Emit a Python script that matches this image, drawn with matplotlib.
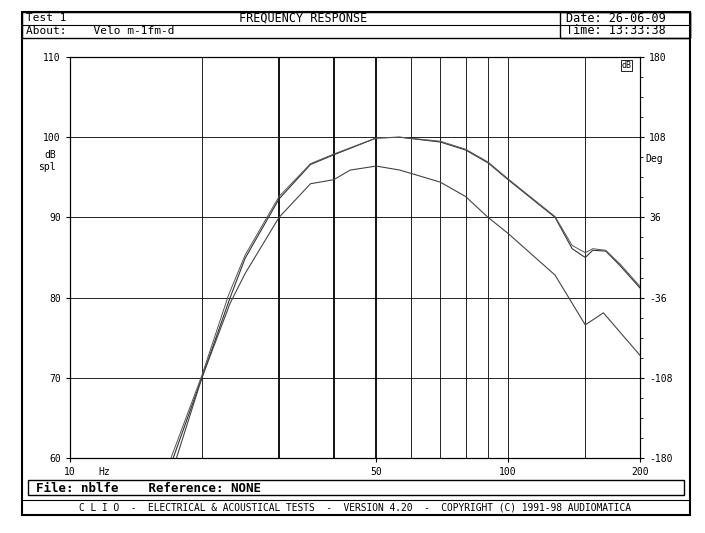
import matplotlib
matplotlib.use("Agg")
import matplotlib.pyplot as plt
from matplotlib.patches import Rectangle

# frequency response curves
freq_a = [17.2, 20, 23.2, 25.1, 30, 35.4, 40, 50, 56.6, 70, 80, 90, 100, 128, 140, 150, 156, 167, 180, 200]
spl_a = [60, 70, 80, 84.9, 92.3, 96.6, 97.8, 99.9, 100, 99.4, 98.4, 96.8, 94.7, 90, 86.1, 85.0, 85.9, 85.8, 84.0, 81.2]
freq_b = [17.0, 20, 23.0, 25.1, 30, 35.4, 40, 50, 56.6, 70, 80, 90, 100, 128, 140, 150, 156, 167, 180, 200]
spl_b = [60, 70.3, 80.3, 85.3, 92.6, 96.7, 97.9, 99.9, 100, 99.5, 98.5, 96.9, 94.8, 90.1, 86.5, 85.6, 86.1, 85.9, 84.2, 81.4]
freq_c = [17.5, 20, 23.2, 25.1, 30, 35.4, 40, 43.6, 50, 56.6, 70, 80, 90, 100, 128, 150, 165, 200]
spl_c = [60, 70, 79.3, 83, 90, 94.2, 94.7, 95.9, 96.4, 95.9, 94.4, 92.6, 90, 88, 82.8, 76.6, 78.1, 72.8]

vgrid = [20, 30, 40, 50, 60, 70, 80, 90, 100, 150]
heavy = [30, 40, 50]
deg_labels = ["-180", "-108", "-36", "36", "108", "180"]

mono = "DejaVu Sans Mono"
fig = plt.figure(figsize=(7.05, 5.33), dpi=100)

# outer frame and header/footer boxes
def box(x0, y0, x1, y1, lw=1.0):
    fig.patches.append(Rectangle((x0 / 705, 1 - y1 / 533), (x1 - x0) / 705, (y1 - y0) / 533,
                                 transform=fig.transFigure, fill=False, lw=lw, color="black"))

box(22, 12, 690, 515, 1.5)
box(22, 12, 690, 38)
box(560, 12, 690, 38)
fig.add_artist(plt.Line2D([22 / 705, 690 / 705], [1 - 25 / 533] * 2, color="black", lw=0.8))
box(28, 480, 684, 495)
fig.add_artist(plt.Line2D([22 / 705, 690 / 705], [1 - 500 / 533] * 2, color="black", lw=0.8))

def ftext(x, y, s, **kw):
    fig.text(x / 705, 1 - y / 533, s, family=mono, va="center", **kw)

ftext(26, 18, "Test 1", fontsize=8)
ftext(303, 18, "FREQUENCY RESPONSE", fontsize=8.5, ha="center")
ftext(26, 31, "About:    Velo m-1fm-d", fontsize=8)
ftext(566, 18, "Date: 26-06-09", fontsize=8.5)
ftext(566, 31, "Time: 13:33:38", fontsize=8.5)
ftext(36, 488, "File: nblfe    Reference: NONE", fontsize=9, weight="bold")
ftext(355, 507, "C L I O  -  ELECTRICAL & ACOUSTICAL TESTS  -  VERSION 4.20  -  COPYRIGHT (C) 1991-98 AUDIOMATICA",
      fontsize=6.9, ha="center")

ax = fig.add_axes([70 / 705, 1 - 458 / 533, 570 / 705, 401 / 533])
ax.set_xscale("log")
ax.set_xlim(10, 200)
ax.set_ylim(60, 110)
for f in vgrid:
    ax.axvline(f, color="black", lw=1.3 if f in heavy else 0.6)
for v in range(70, 110, 10):
    ax.axhline(v, color="black", lw=0.6)

ax.plot(freq_a, spl_a, color="#333333", lw=0.8)
ax.plot(freq_b, spl_b, color="#555555", lw=0.7)
ax.plot(freq_c, spl_c, color="#444444", lw=0.8)

ax.set_xticks([10, 50, 100, 200])
ax.set_xticklabels(["10", "50", "100", "200"], family=mono, fontsize=7)
ax.xaxis.set_minor_locator(matplotlib.ticker.NullLocator())
ax.set_yticks(range(60, 111, 10))
ax.set_yticklabels([str(v) for v in range(60, 111, 10)], family=mono, fontsize=7)
ax.tick_params(length=3, width=0.8)
ax.text(0.05, -0.035, "Hz", transform=ax.transAxes, family=mono, fontsize=7, va="center")
ax.text(-0.025, 0.74, "dB\nspl", transform=ax.transAxes, family=mono, fontsize=7, ha="right", va="center")

ax2 = ax.twinx()
ax2.set_ylim(-180, 180)
ax2.set_yticks([-180, -108, -36, 36, 108, 180])
ax2.set_yticklabels(deg_labels, family=mono, fontsize=7)
ax2.set_yticks(range(-180, 181, 18), minor=True)
ax2.tick_params(length=3, width=0.8)
ax2.tick_params(which="minor", length=2)
ax2.text(1.01, 0.745, "Deg", transform=ax.transAxes, family=mono, fontsize=7, va="center")
ax.text(0.985, 0.99, "dB", transform=ax.transAxes, family=mono, fontsize=6, ha="right", va="top",
        bbox=dict(boxstyle="square,pad=0.1", fc="white", ec="black", lw=0.6))

fig.savefig("out.png", dpi=100)
